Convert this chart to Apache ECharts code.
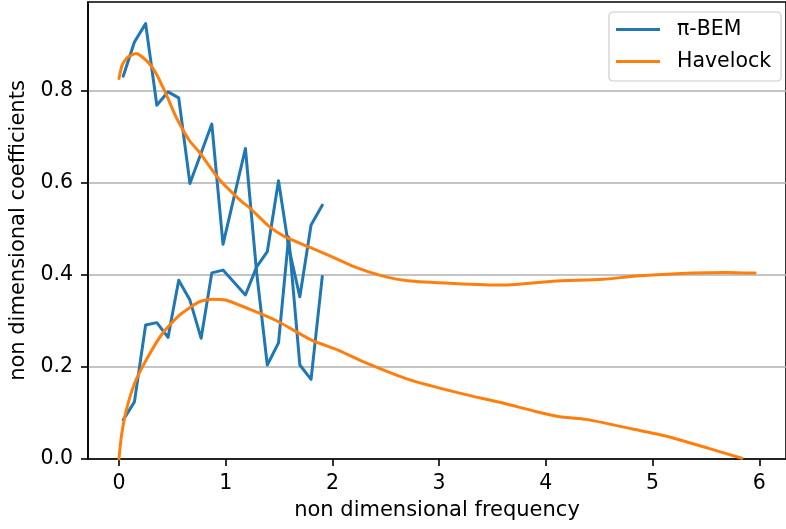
<!DOCTYPE html>
<html>
<head>
<meta charset="utf-8">
<script src="https://cdn.jsdelivr.net/npm/echarts@6/dist/echarts.min.js"></script>
<style>
  html, body { margin: 0; padding: 0; background: #fff; }
  #chart { width: 786px; height: 529px; }
</style>
</head>
<body>
<div id="chart"></div>
<script>
// π-BEM results (two coefficient curves sampled on the same frequency grid)
const freqBEM = [0.04, 0.145, 0.25, 0.355, 0.46, 0.56, 0.665, 0.77, 0.87, 0.975, 1.08, 1.185, 1.29, 1.39, 1.495, 1.59, 1.695, 1.80, 1.905];
const bemA = [0.831, 0.905, 0.945, 0.768, 0.797, 0.784, 0.598, 0.664, 0.727, 0.466, 0.570, 0.674, 0.405, 0.204, 0.252, 0.482, 0.204, 0.173, 0.396];
const bemB = [0.085, 0.124, 0.291, 0.296, 0.264, 0.388, 0.345, 0.262, 0.404, 0.410, 0.383, 0.356, 0.417, 0.450, 0.604, 0.460, 0.352, 0.508, 0.551];

// Havelock reference solution
const freqHavA = [0, 0.03, 0.08, 0.16, 0.27, 0.348, 0.44, 0.534, 0.658, 0.75, 0.937, 1.153, 1.216, 1.402, 1.557, 1.774, 1.96, 2.208, 2.457, 2.704, 3.139, 3.604, 4.069, 4.534, 4.844, 5.371, 5.681, 5.96];
const havA = [0.826, 0.855, 0.872, 0.880, 0.862, 0.837, 0.793, 0.743, 0.692, 0.667, 0.608, 0.558, 0.547, 0.506, 0.482, 0.461, 0.4425, 0.417, 0.398, 0.387, 0.381, 0.3775, 0.386, 0.390, 0.397, 0.4035, 0.405, 0.4035];
const freqHavB = [0, 0.022, 0.069, 0.146, 0.255, 0.409, 0.565, 0.751, 0.875, 0.999, 1.247, 1.495, 1.805, 2.053, 2.27, 2.704, 3.20, 3.604, 3.913, 4.13, 4.379, 4.813, 5.123, 5.526, 5.837];
const havB = [0.0, 0.048, 0.106, 0.164, 0.215, 0.273, 0.312, 0.341, 0.347, 0.345, 0.323, 0.298, 0.258, 0.2364, 0.213, 0.1735, 0.1425, 0.121, 0.1026, 0.0918, 0.086, 0.065, 0.050, 0.023, 0.0015];

// Axis ticks
const xTicks = [0, 1, 2, 3, 4, 5, 6];
const yTicks = [0, 0.2, 0.4, 0.6, 0.8];

const pair = (xs, ys) => xs.map((x, i) => [x, ys[i]]);

const FONT = 'DejaVu Sans';
const BLUE = '#1f77b4';
const ORANGE = '#ff7f0e';

const chart = echarts.init(document.getElementById('chart'), null, { renderer: 'canvas' });

const lineSeries = (name, data, color, smooth) => ({
  name: name,
  type: 'line',
  data: data,
  showSymbol: false,
  symbol: 'none',
  smooth: smooth,
  lineStyle: { color: color, width: 3, cap: 'round', join: 'round' },
  itemStyle: { color: color },
  emphasis: { disabled: true },
  clip: true
});

chart.setOption({
  animation: false,
  backgroundColor: '#ffffff',
  grid: {
    left: 88, top: 2, right: -5, bottom: 70,
    show: true, borderColor: '#000', borderWidth: 1.6,
    backgroundColor: 'transparent', containLabel: false
  },
  legend: {
    data: ['π-BEM', 'Havelock'],
    orient: 'vertical',
    left: 609, top: 12,
    padding: [7, 10, 9, 7],
    itemGap: 11,
    itemWidth: 44,
    itemHeight: 3,
    icon: 'rect',
    backgroundColor: 'rgba(255,255,255,0.8)',
    borderColor: '#cccccc',
    borderWidth: 1.2,
    borderRadius: 4,
    textStyle: { fontFamily: FONT, fontSize: 20.5, color: '#000', padding: [0, 0, 0, 12] }
  },
  xAxis: {
    type: 'value',
    min: -0.29, max: 6.25,
    name: 'non dimensional frequency',
    nameLocation: 'middle',
    nameGap: 41,
    nameTextStyle: { fontFamily: FONT, fontSize: 21, color: '#000' },
    axisLine: { show: true, onZero: false, lineStyle: { color: '#000', width: 1.6 } },
    axisTick: { show: true, length: 7, lineStyle: { color: '#000', width: 1.6 }, customValues: xTicks },
    axisLabel: {
      customValues: xTicks, margin: 14,
      fontFamily: FONT, fontSize: 20.5, color: '#000',
      formatter: v => String(v)
    },
    splitLine: { show: false }
  },
  yAxis: {
    type: 'value',
    min: 0, max: 0.992,
    name: 'non dimensional coefficients',
    nameLocation: 'middle',
    nameGap: 51,
    nameTextStyle: { fontFamily: FONT, fontSize: 21, color: '#000' },
    axisLine: { show: true, onZero: false, lineStyle: { color: '#000', width: 1.6 } },
    axisTick: { show: true, length: 7, lineStyle: { color: '#000', width: 1.6 }, customValues: yTicks },
    axisLabel: {
      customValues: yTicks, margin: 15,
      fontFamily: FONT, fontSize: 20.5, color: '#000',
      formatter: v => v.toFixed(1)
    },
    splitLine: { show: true, lineStyle: { color: '#b0b0b0', width: 1.6 } }
  },
  series: [
    lineSeries('π-BEM', pair(freqBEM, bemA), BLUE, false),
    lineSeries('π-BEM', pair(freqBEM, bemB), BLUE, false),
    lineSeries('Havelock', pair(freqHavA, havA), ORANGE, 0.2),
    lineSeries('Havelock', pair(freqHavB, havB), ORANGE, 0.2)
  ]
});
</script>
</body>
</html>
